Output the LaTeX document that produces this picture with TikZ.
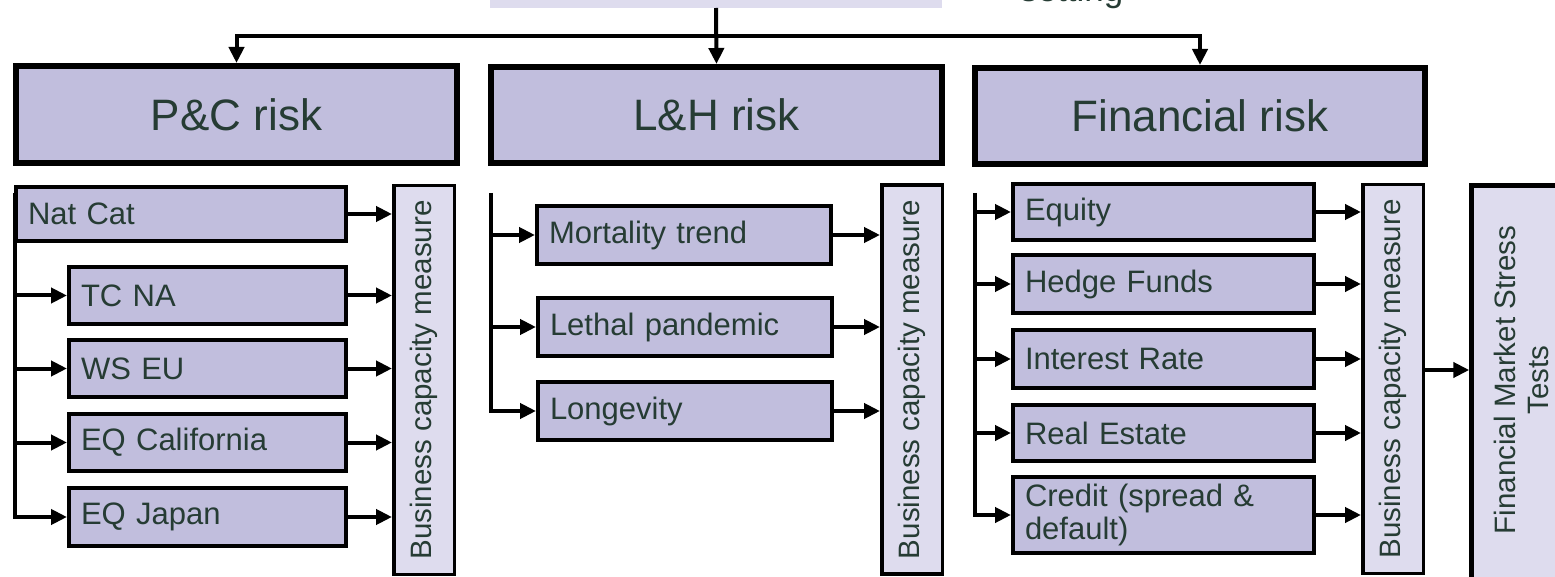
\documentclass[tikz,border=0pt]{standalone}
\usepackage{fontspec}
\setmainfont{Liberation Sans}
\usetikzlibrary{arrows.meta}
\definecolor{txt}{RGB}{38,60,52}
\definecolor{midlav}{RGB}{193,190,221}
\definecolor{litlav}{RGB}{222,220,238}
\tikzset{
  hdr/.style={draw=black, line width=6pt, fill=midlav, text=txt, font=\fontsize{44}{50}\selectfont, inner sep=0pt},
  item/.style={draw=black, line width=4pt, fill=midlav, text=txt, font=\fontsize{31}{33}\selectfont, inner xsep=12pt, inner ysep=0pt, align=left},
  bcm/.style={draw=black, line width=3.5pt, fill=litlav, inner sep=0pt, minimum width=60.5pt, minimum height=389pt},
  vtext/.style={rotate=90, text=txt, font=\fontsize{29.5}{33}\selectfont, align=center, inner sep=0pt},
  arr/.style={line width=4pt, -{Triangle[length=16pt,width=15pt]}},
}
\begin{document}
\begin{tikzpicture}[x=1pt,y=-1pt]
\useasboundingbox (0,0) rectangle (1555,577);
\clip (0,0) rectangle (1555,577);

% top partial box and label
\node[fill=litlav, minimum width=452pt, minimum height=68pt, inner sep=0pt, outer sep=0pt] (top) at (716,-26) {};
\node[anchor=base west, text=txt, font=\fontsize{35}{40}\selectfont, inner sep=0pt] (set) at (1020,1.5) {setting};

% headers
\node[hdr, minimum width=441pt, minimum height=97pt] (pc) at (236.5,114.5) {P\&C risk};
\node[hdr, minimum width=451pt, minimum height=96pt] (lh) at (716.5,115) {L\&H risk};
\node[hdr, minimum width=450pt, minimum height=96pt] (fin) at (1200,116) {Financial risk};

\coordinate (bus) at (716.5,36);
\draw[arr] (top.south) -- (lh.north);
\draw[arr] (bus) -| (pc.north);
\draw[arr] (bus) -| (fin.north);

% P&C column
\node[item, text width=306pt, minimum height=54pt] (natcat) at (181,214) {Nat Cat};
\node[item, text width=253pt, minimum height=57pt] (tcna) at (207.5,295.5) {TC NA};
\node[item, text width=253pt, minimum height=57pt] (wseu) at (207.5,368.5) {WS EU};
\node[item, text width=253pt, minimum height=57pt] (eqca) at (207.5,442.5) {EQ California};
\node[item, text width=253pt, minimum height=58pt] (eqjp) at (207.5,517) {EQ Japan};
\node[bcm] (bcm1) at (424,380) {};
\node[vtext] (bcm1t) at (bcm1.center) {Business capacity measure};
\coordinate (pctr) at (15,193);
\draw[arr] (pctr) |- (eqjp.west);
\foreach \n in {tcna,wseu,eqca} \draw[arr] (pctr |- \n.west) -- (\n.west);
\foreach \n in {natcat,tcna,wseu,eqca,eqjp} \draw[arr] (\n.east) -- (\n.east -| bcm1.west);

% L&H column
\node[item, text width=270pt, minimum height=58pt] (mort) at (684,235) {Mortality trend};
\node[item, text width=270pt, minimum height=58pt] (leth) at (685,327) {Lethal pandemic};
\node[item, text width=270pt, minimum height=58pt] (longv) at (685,411) {Longevity};
\node[bcm] (bcm2) at (912,379.5) {};
\node[vtext] (bcm2t) at (bcm2.center) {Business capacity measure};
\coordinate (lhtr) at (490.5,193);
\draw[arr] (lhtr) |- (longv.west);
\foreach \n in {mort,leth} \draw[arr] (lhtr |- \n.west) -- (\n.west);
\foreach \n in {mort,leth,longv} \draw[arr] (\n.east) -- (\n.east -| bcm2.west);

% Financial column
\node[item, text width=277pt, minimum height=56pt] (eq) at (1163.5,212) {Equity};
\node[item, text width=277pt, minimum height=58pt] (hf) at (1163.5,284) {Hedge Funds};
\node[item, text width=277pt, minimum height=58pt] (ir) at (1163.5,359) {Interest Rate};
\node[item, text width=277pt, minimum height=56pt] (re) at (1163.5,433) {Real Estate};
\node[item, text width=277pt, minimum height=76pt] (cr) at (1163.5,515) {Credit (spread \&\\default)};
\node[bcm] (bcm3) at (1393,379) {};
\node[vtext] (bcm3t) at (bcm3.center) {Business capacity measure};
\coordinate (fintr) at (975,193);
\draw[arr] (fintr) |- (cr.west);
\foreach \n in {eq,hf,ir,re} \draw[arr] (fintr |- \n.west) -- (\n.west);
\foreach \n in {eq,hf,ir,re,cr} \draw[arr] (\n.east) -- (\n.east -| bcm3.west);

% Financial Market Stress Tests
\node[draw=black, line width=4.5pt, fill=litlav, minimum width=104pt, minimum height=397pt, inner sep=0pt] (fmst) at (1523.5,384) {};
\node[vtext] (fmstt) at (1521,380) {Financial Market Stress\\Tests};
\draw[arr] ([yshift=9pt]bcm3.east) -- ([yshift=9pt]bcm3.east -| fmst.west);
\end{tikzpicture}
\end{document}
